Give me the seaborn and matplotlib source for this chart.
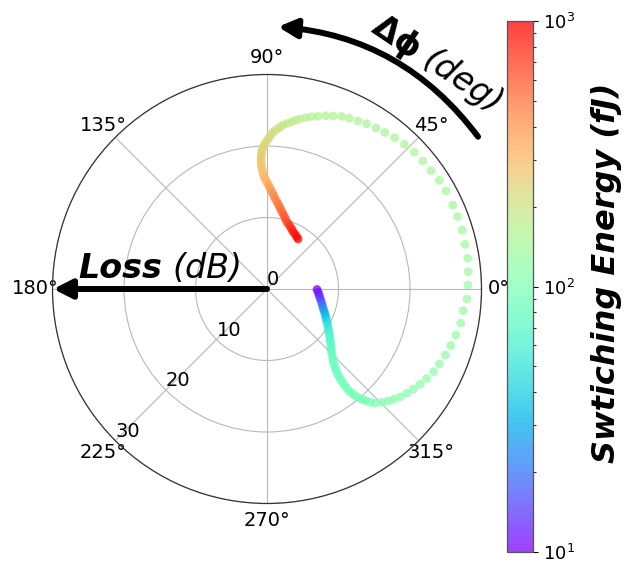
import numpy as np
import pandas as pd
import matplotlib
matplotlib.use("Agg")
import matplotlib.pyplot as plt
import matplotlib.cm as cm
from matplotlib.colors import LogNorm
import seaborn as sns

# Phase shift (deg), insertion loss (dB) and switching energy (fJ) along the sweep,
# ordered from the lowest to the highest switching energy.
phase_deg = [
    -0.57, -3.59, -6.62, -9.64, -12.67, -15.71, -18.74, -21.22, -23.69, -26.17,
    -28.31, -30.46, -32.6, -34.2, -35.8, -37.4, -39.0, -40.33, -41.67, -43.0,
    -44.33, -45.57, -46.81, -48.05, -48.77, -49.48, -50.2, -50.5, -50.8, -51.1,
    -51.13, -51.17, -51.2, -50.87, -50.53, -50.2, -49.63, -49.07, -48.5, -47.55,
    -46.6, -44.65, -42.8, -40.97, -39.08, -36.75, -34.4, -31.9, -29.3, -26.4,
    -23.5, -20.3, -17.1, -13.7, -10.0, -6.3, -2.9, 1.1, 4.9, 8.7,
    12.7, 16.8, 20.8, 24.3, 28.7, 32.2, 35.8, 39.4, 42.9, 46.5,
    49.8, 53.0, 55.9, 58.9, 61.6, 64.3, 66.6, 69.0, 71.2, 73.5,
    75.5,
    77.25, 79.0, 80.33, 81.65, 82.98, 84.3, 85.15, 86.0, 86.85, 87.7,
    88.38, 89.05, 89.73, 90.4, 90.97, 91.53, 92.1, 92.27, 92.43, 92.6,
    92.6, 92.6, 92.6, 92.23, 91.87, 91.5, 90.7, 89.9, 89.1, 88.3,
    87.48, 86.65, 85.83, 85.0, 83.74, 82.48, 81.21, 79.95, 78.39, 76.83,
    75.26, 73.7, 71.7, 69.7, 67.7, 65.7, 63.2, 60.7, 58.2,
]
loss_db = [
    6.99, 7.17, 7.34, 7.52, 7.77, 8.02, 8.27, 8.58, 8.88, 9.19,
    9.50, 9.82, 10.13, 10.43, 10.74, 11.04, 11.34, 11.66, 11.98, 12.29,
    12.61, 13.04, 13.48, 13.91, 14.37, 14.83, 15.29, 15.76, 16.24, 16.71,
    17.24, 17.77, 18.30, 18.75, 19.21, 19.66, 20.07, 20.49, 20.9, 21.45,
    22.0, 22.55, 23.06, 23.5, 23.96, 24.4, 24.8, 25.2, 25.6, 26.0,
    26.3, 26.6, 26.9, 27.2, 27.5, 27.6, 28.0, 28.1, 28.25, 28.4,
    28.4, 28.5, 28.5, 28.5, 28.55, 28.5, 28.3, 28.2, 28.1, 27.9,
    27.7, 27.4, 27.2, 27.0, 26.7, 26.5, 26.3, 25.9, 25.6, 25.2,
    24.9,
    24.56, 24.22, 23.93, 23.64, 23.34, 23.05, 22.78, 22.52, 22.25, 21.98,
    21.63, 21.27, 20.92, 20.56, 20.19, 19.82, 19.45, 19.08, 18.71, 18.34,
    17.92, 17.50, 17.08, 16.61, 16.14, 15.67, 15.29, 14.90, 14.52, 14.13,
    13.78, 13.43, 13.08, 12.73, 12.35, 11.98, 11.60, 11.22, 10.87, 10.51,
    10.16, 9.81, 9.57, 9.32, 9.08, 8.83, 8.63, 8.43, 8.23,
]
energy_fj = [
    10.0, 11.0, 12.0, 13.8, 15.8, 18.2, 21.9, 26.3, 31.6, 36.3,
    41.7, 47.9, 52.5, 57.5, 63.1, 66.1, 69.2, 72.4, 74.1, 75.9,
    77.6, 79.4, 81.3, 82.5, 83.7, 84.9, 86.0, 87.1, 88.1, 89.0,
    89.9, 90.7, 91.5, 92.2, 92.9, 93.5, 94.1, 94.7, 95.2, 95.7,
    100, 102, 104, 106, 108, 110, 112, 114, 116, 118,
    120, 122, 124, 126, 128, 130, 131, 133, 134, 136,
    137, 139, 140, 141, 143, 144, 145, 146, 147, 148,
    149, 150, 151, 152, 153, 154, 155, 156, 157, 158,
    159,
    166, 170, 174, 178, 182, 186, 191, 195, 200, 204,
    209, 214, 219, 224, 229, 234, 240, 245, 251, 257,
    263, 269, 275, 282, 288, 302, 316, 331, 347, 363,
    380, 398, 417, 437, 457, 479, 501, 525, 550, 575,
    603, 631, 676, 724, 776, 832, 871, 933, 1000,
]

theta_ticks_deg = [0, 45, 90, 135, 180, 225, 270, 315]
r_ticks = [0, 10, 20, 30]
energy_limits = (10, 1000)

sns.set_style("white")
plt.rcParams["font.family"] = ["DejaVu Sans"]
plt.rcParams["text.color"] = "black"
plt.rcParams["xtick.color"] = "black"
plt.rcParams["ytick.color"] = "black"
plt.rcParams["axes.labelcolor"] = "black"

W, H = 630, 565
fig = plt.figure(figsize=(W / 100, H / 100), dpi=100)

cx, cy, R = 267, 289, 214.5
ax = fig.add_axes([(cx - R) / W, (H - cy - R) / H, 2 * R / W, 2 * R / H],
                  projection="polar")

df = pd.DataFrame({
    "theta": np.deg2rad(phase_deg),
    "loss": loss_db,
    "energy": energy_fj,
})
norm = LogNorm(*energy_limits)
sns.scatterplot(data=df, x="theta", y="loss", hue="energy", hue_norm=norm,
                palette="rainbow", s=40, alpha=0.75, linewidth=0,
                legend=False, ax=ax, zorder=3)
ax.set_xlabel("")
ax.set_ylabel("")

ax.set_ylim(0, 30)
ax.set_yticks(r_ticks)
ax.set_yticklabels([str(v) for v in r_ticks])
ax.set_rlabel_position(225)
ax.set_xticks(np.deg2rad(theta_ticks_deg))
ax.set_xticklabels([f"{d}°" for d in theta_ticks_deg])
ax.tick_params(labelsize=14, colors="black")
ax.tick_params(axis="x", pad=2)
ax.grid(True, color="#b8b8b8", lw=0.8)
ax.spines["polar"].set_color("#333333")
ax.spines["polar"].set_linewidth(0.9)

# Radial arrow for the loss axis
arrow_style = "-|>,head_length=0.55,head_width=0.28"
ax.annotate("", xy=(np.pi, 29.9), xytext=(np.pi, 0.0), xycoords="data",
            arrowprops=dict(arrowstyle=arrow_style, lw=4.3, color="black",
                            shrinkA=0, shrinkB=0, mutation_scale=20),
            annotation_clip=False, zorder=5)
# Curved arrow for the phase direction
ax.annotate("", xy=(np.deg2rad(87.6), 36.7), xytext=(np.deg2rad(35.8), 36.4),
            xycoords="data",
            arrowprops=dict(arrowstyle=arrow_style, lw=4.3, color="black",
                            shrinkA=0, shrinkB=0, mutation_scale=20,
                            connectionstyle="arc3,rad=0.226"),
            annotation_clip=False, zorder=5)

# Axis titles
fig.text(78 / W, 1 - 278 / H, "Loss", fontsize=24, fontweight="bold",
         fontstyle="italic", ha="left", va="baseline")
fig.text(172 / W, 1 - 278 / H, "(dB)", fontsize=24, fontstyle="italic",
         ha="left", va="baseline")

renderer = fig.canvas.get_renderer()
ang = -34.0
probe = fig.text(0, 0, "Δϕ", fontsize=24, fontweight="bold")
w = probe.get_window_extent(renderer).width + 0.25 * 24 * 100 / 72
probe.remove()
x0, y0 = 370, H - 31
fig.text(x0 / W, y0 / H, "Δϕ", fontsize=24, fontweight="bold",
         rotation=ang, rotation_mode="anchor", ha="left", va="baseline")
x1 = x0 + w * np.cos(np.deg2rad(ang))
y1 = y0 + w * np.sin(np.deg2rad(ang))
fig.text(x1 / W, y1 / H, "(deg)", fontsize=24, fontstyle="italic",
         rotation=ang, rotation_mode="anchor", ha="left", va="baseline")

# Colour bar for switching energy
cax = fig.add_axes([507 / W, 13 / H, 26 / W, 531 / H])
sm = cm.ScalarMappable(norm=norm, cmap="rainbow")
cb = fig.colorbar(sm, cax=cax, alpha=0.75)
cb.outline.set_edgecolor("#555555")
cb.outline.set_linewidth(0.9)
cax.tick_params(labelsize=13, colors="black")
fig.text(606 / W, 1 - 273 / H, "Swtiching Energy (fJ)", fontsize=23,
         fontweight="bold", fontstyle="italic", rotation=90,
         ha="center", va="center")

fig.savefig("out.png", dpi=100)
